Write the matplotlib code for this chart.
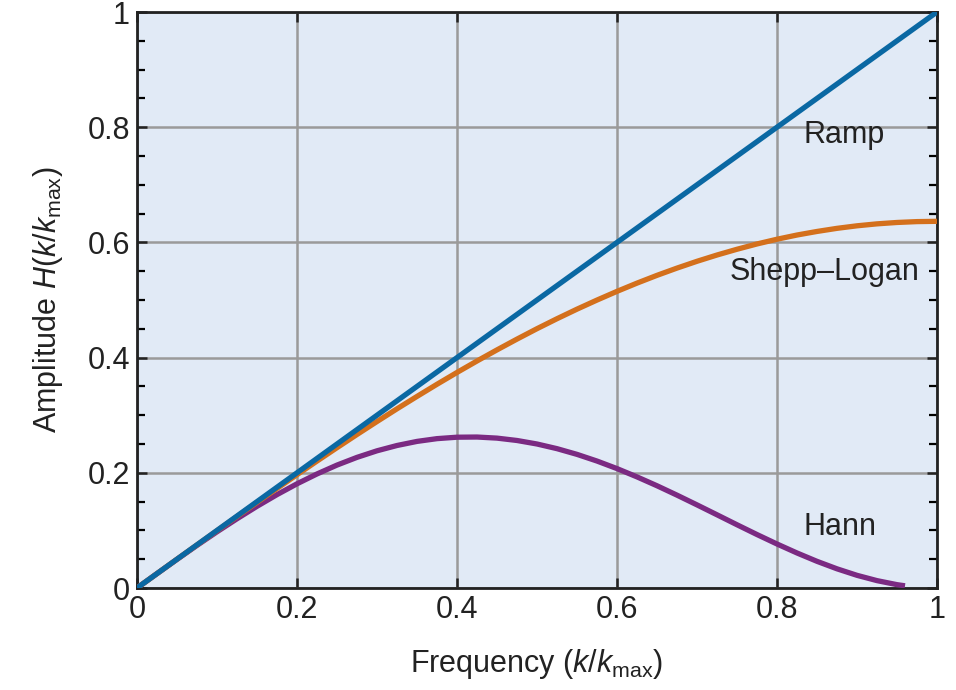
import matplotlib
matplotlib.use("Agg")
import matplotlib.pyplot as plt
from matplotlib.ticker import MultipleLocator

plt.rcParams['font.family'] = ['Liberation Sans', 'DejaVu Sans']
plt.rcParams['mathtext.fontset'] = 'custom'
plt.rcParams['mathtext.rm'] = 'Liberation Sans'
plt.rcParams['mathtext.it'] = 'Liberation Sans:italic'

freq = [0.0, 0.025, 0.05, 0.075, 0.1, 0.125, 0.15, 0.175, 0.2, 0.225, 0.25, 0.275,
        0.3, 0.325, 0.35, 0.375, 0.4, 0.425, 0.45, 0.475, 0.5, 0.525, 0.55, 0.575,
        0.6, 0.625, 0.65, 0.675, 0.7, 0.725, 0.75, 0.775, 0.8, 0.825, 0.85, 0.875,
        0.9, 0.925, 0.95, 0.975, 1.0]
ramp = [0.0, 1.0]
ramp_freq = [0.0, 1.0]
shepp_logan = [0.0, 0.0250, 0.0500, 0.0748, 0.0996, 0.1242, 0.1486, 0.1728, 0.1967,
               0.2203, 0.2436, 0.2665, 0.2890, 0.3111, 0.3326, 0.3537, 0.3742, 0.3941,
               0.4134, 0.4321, 0.4502, 0.4675, 0.4841, 0.4999, 0.5150, 0.5293, 0.5428,
               0.5554, 0.5672, 0.5781, 0.5881, 0.5973, 0.6055, 0.6128, 0.6190, 0.6244,
               0.6288, 0.6322, 0.6346, 0.6361, 0.6366]
hann_freq = [0.0, 0.025, 0.05, 0.075, 0.1, 0.125, 0.15, 0.175, 0.2, 0.225, 0.25, 0.275,
             0.3, 0.325, 0.35, 0.375, 0.4, 0.425, 0.45, 0.475, 0.5, 0.525, 0.55, 0.575,
             0.6, 0.625, 0.65, 0.675, 0.7, 0.725, 0.75, 0.775, 0.8, 0.825, 0.85, 0.875,
             0.9, 0.925, 0.95, 0.96]
hann = [0.0, 0.0250, 0.0497, 0.0740, 0.0976, 0.1202, 0.1418, 0.1621, 0.1809, 0.1980,
        0.2134, 0.2268, 0.2382, 0.2474, 0.2545, 0.2593, 0.2618, 0.2621, 0.2602, 0.2561,
        0.2500, 0.2419, 0.2320, 0.2204, 0.2073, 0.1929, 0.1775, 0.1612, 0.1443, 0.1271,
        0.1098, 0.0928, 0.0764, 0.0608, 0.0463, 0.0333, 0.0220, 0.0128, 0.0058, 0.0038]

fig = plt.figure(figsize=(9.56, 6.90), dpi=100)
ax = fig.add_axes([137/956, 1-588/690, 800/956, 576/690])
ax.set_facecolor('#e1eaf6')

ax.plot(hann_freq, hann, color='#7b2a82', lw=3.8, solid_capstyle='butt', solid_joinstyle='round', zorder=3)
ax.plot(freq, shepp_logan, color='#d4701c', lw=3.8, solid_capstyle='butt', solid_joinstyle='round', zorder=4)
ax.plot(ramp_freq, ramp, color='#0a68a3', lw=3.8, solid_capstyle='butt', zorder=5)

fs = 22
ax.text(0.884, 0.786, 'Ramp', fontsize=fs, ha='center', va='center', color='#222222')
ax.text(0.86, 0.549, 'Shepp\u2013Logan', fontsize=fs, ha='center', va='center', color='#222222')
ax.text(0.879, 0.106, 'Hann', fontsize=fs, ha='center', va='center', color='#222222')

ax.set_xlim(0, 1)
ax.set_ylim(0, 1)
ax.set_xticks([0, 0.2, 0.4, 0.6, 0.8, 1.0])
ax.set_xticklabels(['0', '0.2', '0.4', '0.6', '0.8', '1'])
ax.set_yticks([0, 0.2, 0.4, 0.6, 0.8, 1.0])
ax.set_yticklabels(['0', '0.2', '0.4', '0.6', '0.8', '1'])
ax.yaxis.set_minor_locator(MultipleLocator(0.05))
ax.grid(True, which='major', color='#9a9a9a', lw=1.8)
ax.set_axisbelow(True)

ax.tick_params(which='major', direction='in', length=7, width=1.8, top=True, right=True,
               labelsize=fs, pad=5, colors='#222222')
ax.tick_params(which='minor', direction='in', length=6, width=1.6, left=True, right=True)
for s in ax.spines.values():
    s.set_linewidth(2.0)
    s.set_color('#222222')

ax.set_xlabel(r'Frequency ($k/k_{\mathrm{max}}$)', fontsize=fs, labelpad=16, color='#222222')
ax.set_ylabel(r'Amplitude $H(k/k_{\mathrm{max}})$', fontsize=fs, labelpad=16, color='#222222')

fig.savefig('out.png', dpi=100)
